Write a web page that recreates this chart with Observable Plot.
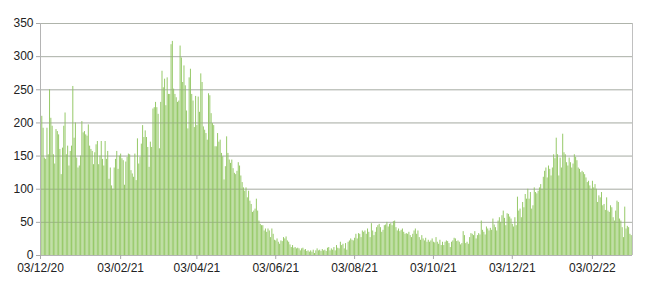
<!DOCTYPE html>
<html>
<head>
<meta charset="utf-8">
<script src="https://cdn.jsdelivr.net/npm/d3@7"></script>
<script src="https://cdn.jsdelivr.net/npm/@observablehq/plot@0.6"></script>
<style>
  html, body { margin: 0; padding: 0; background: #fff; }
</style>
</head>
<body>
<div id="chart"></div>
<script>
// First day of the series (dd/mm/yy) and one value per day
const startLabel = "03/12/20";
const endLabel = "06/03/22";
const xTickLabels = ["03/12/20", "03/02/21", "03/04/21", "03/06/21", "03/08/21", "03/10/21", "03/12/21", "03/02/22"];
const yTicks = [0, 50, 100, 150, 200, 250, 300, 350];

// Dec 2020 – early Feb 2021
const winter2021 = [217,210,192,147,145,192,152,250,207,195,152,138,190,187,182,160,122,162,195,215,
  152,165,135,157,165,255,177,200,147,132,135,150,202,185,187,182,180,197,165,160,
  157,137,155,167,172,137,150,172,145,135,172,145,157,115,132,105,100,132,145,157,130,150];
// Feb – early Apr 2021
const spring2021 = [153,146,143,106,141,148,153,152,128,123,118,153,113,176,138,148,168,196,178,188,
  178,163,133,171,163,221,223,231,223,213,161,231,278,253,266,226,268,243,243,318,
  323,251,243,238,231,233,316,298,261,286,256,218,191,268,281,243,233,193,240];
// Apr – early Jun 2021
const decline2021 = [196,239,216,274,261,194,189,184,174,244,241,214,199,196,164,164,184,171,174,154,
  149,114,134,179,154,144,139,144,131,124,122,127,140,135,120,110,102,97,102,87,
  97,82,77,65,67,70,85,67,52,47,45,45,37,40,35,40,37,27,40,32,23];
// Jun – early Aug 2021
const summer2021 = [22,25,20,17,22,21,27,25,28,22,20,16,12,15,11,12,10,11,10,7,
  10,11,8,9,6,7,5,7,5,8,3,7,10,7,8,6,9,7,8,6,11,12,7,10,
  8,12,7,15,11,10,20,15,17,10,18,8,20,22,25,23,22];
// Aug – early Oct 2021
const autumn2021 = [26,32,25,33,32,27,37,35,37,32,40,35,27,48,37,30,35,42,45,47,
  42,35,38,45,46,50,43,47,48,45,51,52,42,37,40,36,38,40,35,32,33,
  32,35,30,27,32,37,40,32,37,27,23,30,25,22,26,20,23,20];
// Oct – mid Dec 2021
const rise2021 = [22,25,20,19,27,20,17,23,15,20,15,20,22,21,18,12,20,22,26,25,21,
  22,20,16,18,36,30,18,20,17,27,33,32,30,36,25,30,33,31,52,38,
  35,31,43,40,37,41,38,55,46,42,37,52,57,50,60,67,56,45,63,62,
  58,55,47,43,57,45,88,67,70,57,80,72,92,85,100];
// mid Dec 2021 – early Mar 2022
const winter2022 = [85,95,70,75,102,95,93,97,102,107,100,118,127,132,117,135,130,120,132,152,
  146,177,152,120,147,132,183,155,152,140,135,147,140,132,138,152,148,143,132,130,125,
  127,125,122,117,110,112,105,100,112,102,107,100,80,90,87,95,75,77,68,87,
  67,65,75,72,57,52,67,82,80,55,52,42,27,73,40,44,42,32,30];

const values = [...winter2021, ...spring2021, ...decline2021, ...summer2021, ...autumn2021, ...rise2021, ...winter2022];

const parse = d3.utcParse("%d/%m/%y");
const start = parse(startLabel);
const end = parse(endLabel);
const data = values.map((v, i) => ({date: d3.utcDay.offset(start, i), value: v}));
const xTicks = xTickLabels.map(parse);

const chart = Plot.plot({
  width: 650,
  height: 292,
  marginLeft: 40,
  marginRight: 18,
  marginTop: 23,
  marginBottom: 37,
  style: {fontFamily: "'Liberation Sans', Arial, sans-serif", fontSize: "12px", color: "#222", background: "#fff", overflow: "visible"},
  x: {type: "utc", domain: [start, end]},
  y: {domain: [0, 350]},
  marks: [
    Plot.ruleY(yTicks, {stroke: "#c0c0c0", strokeWidth: 1}),
    Plot.ruleX([end], {y1: 0, y2: 350, stroke: "#c0c0c0"}),
    Plot.rectY(data, {
      x1: "date",
      x2: d => d3.utcDay.offset(d.date, 1),
      y: "value",
      fill: "#96c968",
      insetRight: 0.3
    }),
    Plot.ruleY(yTicks.slice(1), {stroke: "#8f9e85", strokeOpacity: 0.35}),
    Plot.ruleX([start], {y1: 0, y2: 350, stroke: "#b4b4b4"}),
    Plot.ruleY([0], {stroke: "#b4b4b4"}),
    Plot.axisY({ticks: yTicks, tickSize: 4, tickPadding: 3, stroke: "#a8a8a8", fill: "#222", label: null}),
    Plot.axisX({ticks: xTicks, tickFormat: d3.utcFormat("%d/%m/%y"), tickSize: 4, tickPadding: 4, stroke: "#a8a8a8", fill: "#222", label: null})
  ]
});
document.getElementById("chart").appendChild(chart);
</script>
</body>
</html>
